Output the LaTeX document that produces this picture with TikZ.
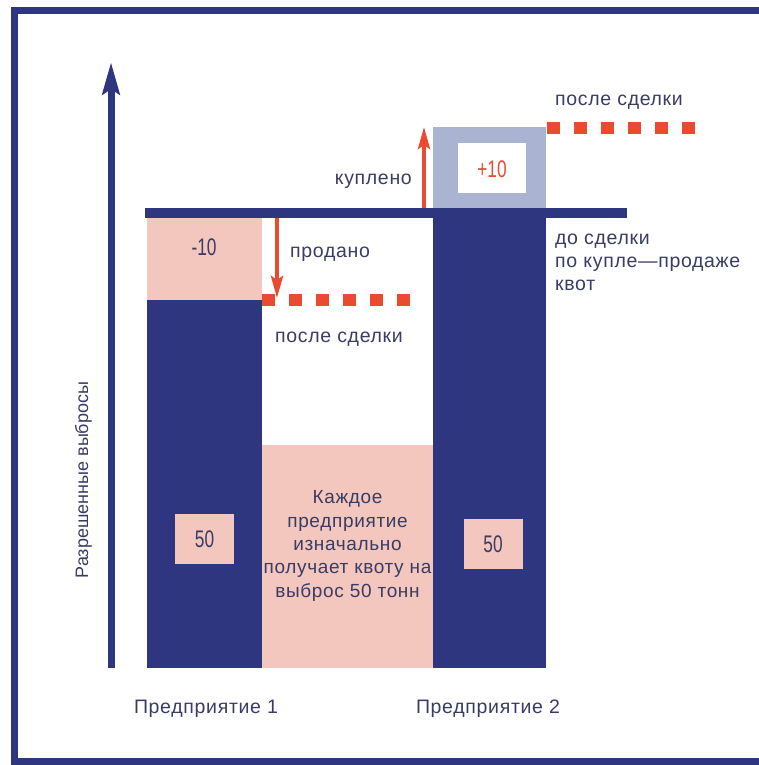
\documentclass[tikz,border=0pt]{standalone}
\usepackage{fontspec}
\setmainfont{Liberation Sans}
\newfontfamily\lblfont[LetterSpace=3.5]{Liberation Sans}
\usepackage{graphicx}
\usetikzlibrary{arrows.meta}
\definecolor{navy}{RGB}{47,54,128}
\definecolor{pinkq}{RGB}{243,198,190}
\definecolor{grayblue}{RGB}{170,179,210}
\definecolor{redq}{RGB}{233,74,48}
\definecolor{txt}{RGB}{58,60,100}
\newcommand{\narrow}[1]{\scalebox{0.72}[1]{#1}}
\begin{document}
\begin{tikzpicture}[x=1pt,y=-1pt,
  lbl/.style={text=txt, font=\lblfont\fontsize{19.5}{23.5}\selectfont, inner sep=0pt, anchor=base},
  numtxt/.style={font=\fontsize{24}{24}\selectfont, inner sep=0pt},
  numbox/.style={fill=pinkq, minimum width=59pt, minimum height=50pt, inner sep=0pt, text=txt, font=\fontsize{24}{24}\selectfont},
  dashq/.style={draw=redq, line width=12pt, dash pattern=on 13pt off 14pt},
  redarrow/.style={draw=redq, line width=4pt, -{Stealth[length=22pt,width=12pt,inset=4pt]}},
  axisarrow/.style={draw=navy, line width=7pt, -{Stealth[length=32pt,width=17pt,inset=5pt]}}]
\clip (0,0) rectangle (759,765);
% frame
\draw[navy, line width=7pt] (775,11) -- (14,11) -- (14,761.5) -- (775,761.5);
% axis
\coordinate (axbot) at (111,668);
\coordinate (axtop) at (111,62);
\draw[axisarrow] (axbot) -- (axtop);
\node[text=txt, font=\fontsize{18}{22}\selectfont, inner sep=0pt, rotate=90, anchor=base] (ylab) at (88,480) {Разрешенные выбросы};
% bars
\fill[navy] (147,300) rectangle (262,668);
\fill[pinkq] (147,218) rectangle (262,300);
\fill[pinkq] (262,445) rectangle (433,668);
\fill[navy] (433,218) rectangle (546,668);
\fill[grayblue] (433,127) rectangle (546,208);
\fill[white] (458,143) rectangle (526,193);
\fill[navy] (145,208) rectangle (627,218);
% numbers
\node[numtxt, text=txt] (m10) at (204,247) {\narrow{-10}};
\node[numtxt, text=redq] (p10) at (492,169.5) {\narrow{+10}};
\node[numbox] (b50a) at (204.5,539) {\narrow{50}};
\node[numbox] (b50b) at (493,544) {\narrow{50}};
% middle text
\node[text=txt, font=\lblfont\fontsize{19}{23.3}\selectfont, align=center, inner sep=0pt] (mid) at (347.5,546) {Каждое\\предприятие\\изначально\\получает квоту на\\выброс 50 тонн};
% dashes
\coordinate (d1s) at (262,300);
\coordinate (d1e) at (411,300);
\draw[dashq] (d1s) -- (d1e);
\coordinate (d2s) at (547,128);
\coordinate (d2e) at (696,128);
\draw[dashq] (d2s) -- (d2e);
% red arrows
\coordinate (sold0) at (277,218);
\coordinate (sold1) at (277,298);
\draw[redarrow] (sold0) -- (sold1);
\coordinate (buy0) at (424,208);
\coordinate (buy1) at (424,127);
\draw[redarrow] (buy0) -- (buy1);
% labels
\node[lbl, anchor=base east] (kup) at (412,184) {куплено};
\node[lbl, anchor=base west] (prod) at (290,257) {продано};
\node[lbl] (after1) at (339,342) {после сделки};
\node[lbl] (after2) at (619,106) {после сделки};
\node[lbl, anchor=base west] (bef1) at (555,244) {до сделки};
\node[lbl, anchor=base west] (bef2) at (555,267) {по купле—продаже};
\node[lbl, anchor=base west] (bef3) at (555,290) {квот};
\node[lbl] (ent1) at (206,713) {Предприятие 1};
\node[lbl] (ent2) at (488,713) {Предприятие 2};
\end{tikzpicture}
\end{document}
